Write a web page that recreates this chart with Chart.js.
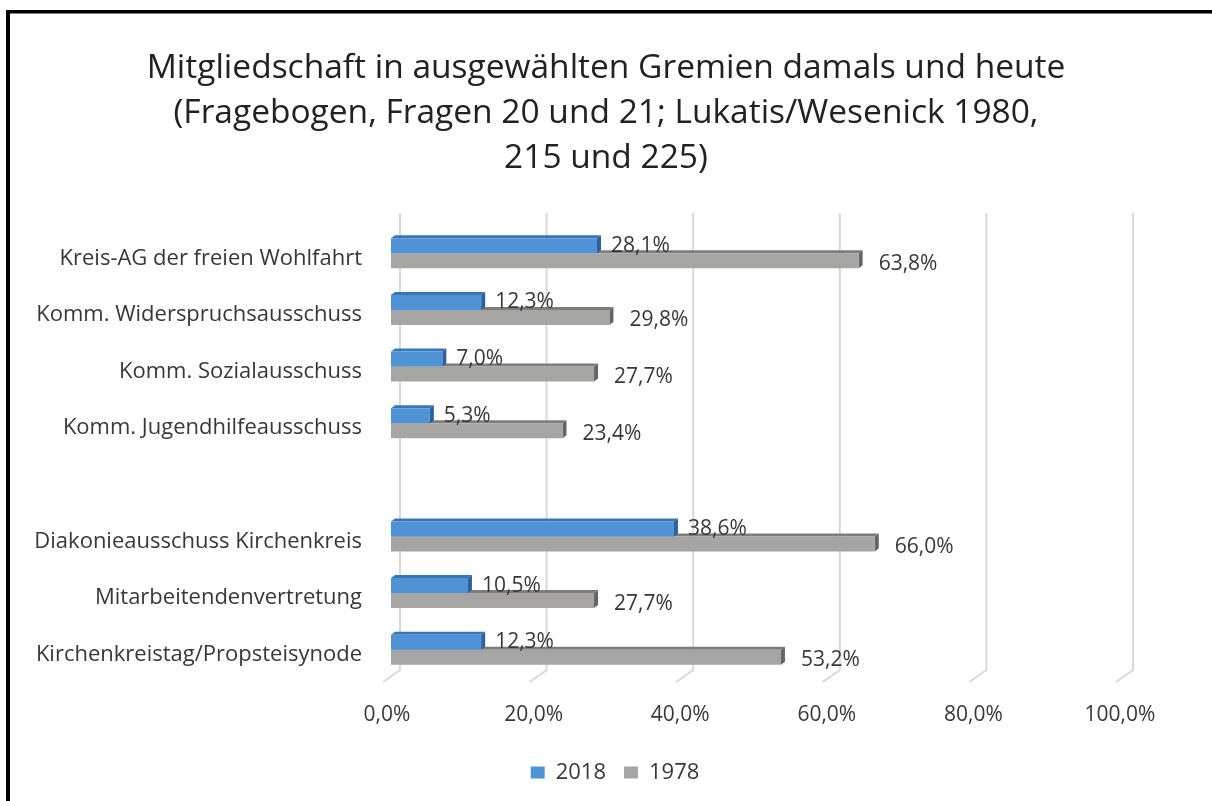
<!DOCTYPE html>
<html>
<head>
<meta charset="utf-8">
<script src="https://cdn.jsdelivr.net/npm/chart.js@4.4.1/dist/chart.umd.min.js"></script>
<style>
  html, body { margin: 0; padding: 0; background: #fff; }
  #wrap { width: 1212px; height: 801px; position: relative; }
</style>
</head>
<body>
<div id="wrap"><canvas id="c" width="1212" height="801"></canvas></div>
<script>
// Gremien (the empty entry is the gap between the two groups)
const categories = [
  'Kreis-AG der freien Wohlfahrt',
  'Komm. Widerspruchsausschuss',
  'Komm. Sozialausschuss',
  'Komm. Jugendhilfeausschuss',
  '',
  'Diakonieausschuss Kirchenkreis',
  'Mitarbeitendenvertretung',
  'Kirchenkreistag/Propsteisynode'
];
const seriesNames = ['2018', '1978'];
const values2018 = [28.1, 12.3, 7.0, 5.3, null, 38.6, 10.5, 12.3];
const values1978 = [63.8, 29.8, 27.7, 23.4, null, 66.0, 27.7, 53.2];
const xTicks = [0, 20, 40, 60, 80, 100];
const titleLines = [
  'Mitgliedschaft in ausgewählten Gremien damals und heute',
  '(Fragebogen, Fragen 20 und 21; Lukatis/Wesenick 1980,',
  '215 und 225)'
];

const FONT = "'Open Sans', sans-serif";
const TEXT = '#383838';
const faceColors = ['#4f93d6', '#a7a4a4'];
const topColors = ['#3a76b5', '#7f7c7c'];
const sideColors = ['#2d6199', '#666464'];
const DX = 4, DY = 3;

const pct = v => v.toFixed(1).replace('.', ',') + '%';

// white page with the black frame on the left and top
const framePlugin = {
  id: 'frame',
  beforeDraw(chart) {
    const ctx = chart.ctx;
    ctx.save();
    ctx.fillStyle = '#ffffff';
    ctx.fillRect(0, 0, chart.width, chart.height);
    ctx.fillStyle = '#000000';
    ctx.fillRect(6, 10, 4, chart.height - 10);
    ctx.fillRect(6, 10, chart.width - 6, 3.5);
    ctx.restore();
  }
};

// legend row sits a little right of the page centre
const legendShift = {
  id: 'legendShift',
  afterLayout(chart) {
    if (chart.legend) {
      chart.legend.left += 9;
      chart.legend.right += 9;
    }
  }
};

// vertical grid lines on the back wall with a slanted foot on the floor
const wallGrid = {
  id: 'wallGrid',
  beforeDatasetsDraw(chart) {
    const { ctx, chartArea, scales: { x } } = chart;
    ctx.save();
    ctx.strokeStyle = '#d9d9d9';
    ctx.lineWidth = 2;
    xTicks.forEach(v => {
      const px = x.getPixelForValue(v);
      ctx.beginPath();
      ctx.moveTo(px + 9, chartArea.top - 12);
      ctx.lineTo(px + 9, chartArea.bottom - 8);
      ctx.lineTo(px - 8, chartArea.bottom + 4);
      ctx.stroke();
    });
    ctx.restore();
  }
};

// top and end faces that give the bars their depth
const barDepth = {
  id: 'barDepth',
  beforeDatasetsDraw(chart) {
    const ctx = chart.ctx;
    ctx.save();
    [1, 0].forEach(di => {
      const meta = chart.getDatasetMeta(di);
      const data = chart.data.datasets[di].data;
      meta.data.forEach((bar, i) => {
        if (data[i] == null) return;
        const { x, y, base, height } = bar.getProps(['x', 'y', 'base', 'height'], true);
        const top = y - height / 2, bottom = y + height / 2;
        ctx.fillStyle = topColors[di];
        ctx.beginPath();
        ctx.moveTo(base, top);
        ctx.lineTo(x, top);
        ctx.lineTo(x + DX, top - DY);
        ctx.lineTo(base + DX, top - DY);
        ctx.closePath();
        ctx.fill();
        ctx.fillStyle = sideColors[di];
        ctx.beginPath();
        ctx.moveTo(x, top);
        ctx.lineTo(x + DX, top - DY);
        ctx.lineTo(x + DX, bottom - DY);
        ctx.lineTo(x, bottom);
        ctx.closePath();
        ctx.fill();
      });
    });
    ctx.restore();
  }
};

// value labels beside each bar
const valueLabels = {
  id: 'valueLabels',
  afterDatasetsDraw(chart) {
    const ctx = chart.ctx;
    ctx.save();
    ctx.font = '21px ' + FONT;
    ctx.fillStyle = TEXT;
    ctx.textAlign = 'left';
    ctx.textBaseline = 'middle';
    const offs = [{ dx: 14, dy: 0 }, { dx: 20, dy: 3 }];
    [0, 1].forEach(di => {
      const meta = chart.getDatasetMeta(di);
      const data = chart.data.datasets[di].data;
      meta.data.forEach((bar, i) => {
        if (data[i] == null) return;
        const { x, y } = bar.getProps(['x', 'y'], true);
        ctx.fillText(pct(data[i]), x + offs[di].dx, y + offs[di].dy);
      });
    });
    ctx.restore();
  }
};

function draw() {
  new Chart(document.getElementById('c'), {
    type: 'bar',
    data: {
      labels: categories,
      datasets: [
        { label: seriesNames[0], data: values2018, backgroundColor: faceColors[0], borderWidth: 0 },
        { label: seriesNames[1], data: values1978, backgroundColor: faceColors[1], borderWidth: 0 }
      ]
    },
    options: {
      indexAxis: 'y',
      responsive: false,
      devicePixelRatio: 1,
      animation: false,
      categoryPercentage: 0.532,
      barPercentage: 1,
      layout: { padding: { top: 0, left: 0, right: 0, bottom: 7.5 } },
      scales: {
        x: {
          min: 0,
          max: 100,
          afterBuildTicks(s) { s.ticks = xTicks.map(v => ({ value: v })); },
          ticks: {
            callback: v => pct(v),
            font: { family: FONT, size: 21 },
            color: TEXT,
            padding: 24,
            labelOffset: -4,
            maxRotation: 0
          },
          grid: { display: false, drawTicks: false },
          border: { display: false },
          afterFit(s) { s.height = 65.5; }
        },
        y: {
          ticks: {
            font: { family: FONT, size: 22 },
            color: TEXT,
            padding: 29,
            labelOffset: 5,
            autoSkip: false
          },
          grid: { display: false, drawTicks: false },
          border: { display: false },
          afterFit(s) { s.width = 391; }
        },
        yRight: {
          type: 'category',
          position: 'right',
          ticks: { display: false },
          grid: { display: false, drawTicks: false },
          border: { display: false },
          afterFit(s) { s.width = 88; }
        }
      },
      plugins: {
        title: {
          display: true,
          text: titleLines,
          color: '#222222',
          font: { family: FONT, size: 33.5, weight: 'normal', lineHeight: '45px' },
          padding: { top: 46, bottom: 44 }
        },
        legend: {
          position: 'bottom',
          labels: {
            font: { family: FONT, size: 22 },
            color: TEXT,
            boxWidth: 14,
            boxHeight: 12,
            padding: 18
          }
        },
        tooltip: { enabled: false }
      }
    },
    plugins: [framePlugin, legendShift, wallGrid, barDepth, valueLabels]
  });
}

if (document.fonts && document.fonts.load) {
  Promise.all([
    document.fonts.load("21px 'Open Sans'"),
    document.fonts.load("33.5px 'Open Sans'")
  ]).then(draw, draw);
} else {
  draw();
}
</script>
</body>
</html>
